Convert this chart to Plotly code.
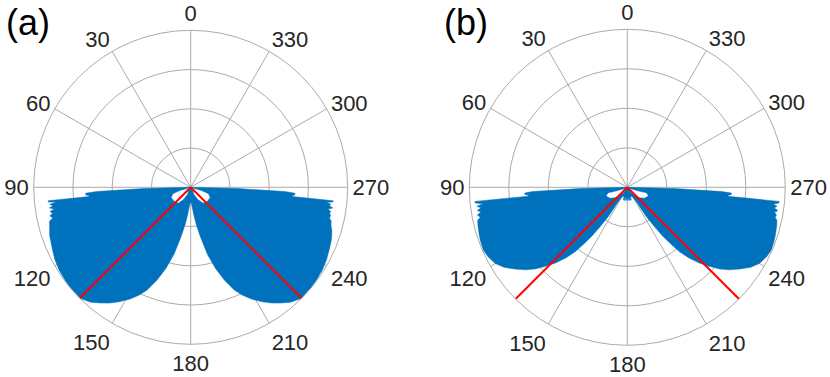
import plotly.graph_objects as go

# angular ticks / rings
ANGLE_TICKS = list(range(0, 360, 30))
RING_TICKS = [0.25, 0.5, 0.75, 1.0]

# panel (a): outline of left lobe (theta in deg, CCW from top), right lobe mirrored
A_THETA = [91.5, 92.6, 93.2, 94.2, 94.6, 95.2, 95.4, 95.9, 96.3, 96.9, 97.6, 98.3, 99.0,
           99.8, 100.6, 101.5, 102.5, 103.5, 105, 107, 109, 111, 114, 118, 122, 127,
           131, 135, 139, 142, 145, 148, 151.5, 154.5, 157, 160, 163, 166, 169, 171.5,
           173.5, 175.5, 177.5, 180]
A_R_LEFT = [0.3, 0.6, 0.67, 0.67, 0.65, 0.65, 0.912, 0.912, 0.86, 0.905, 0.885, 0.91, 0.88,
            0.91, 0.895, 0.915, 0.90, 0.925, 0.93, 0.94, 0.95, 0.955, 0.965, 0.98, 0.99, 0.996,
            1.0, 1.0, 0.97, 0.935, 0.90, 0.86, 0.81, 0.76, 0.71, 0.63, 0.54, 0.44, 0.32, 0.24,
            0.18, 0.13, 0.105, 0.095]
A_R_RIGHT = [0.3, 0.6, 0.665, 0.665, 0.65, 0.65, 0.912, 0.91, 0.87, 0.90, 0.89, 0.915, 0.885,
             0.905, 0.90, 0.91, 0.905, 0.92, 0.925, 0.94, 0.95, 0.958, 0.967, 0.98, 0.99, 0.996,
             1.0, 1.0, 0.97, 0.935, 0.90, 0.86, 0.81, 0.76, 0.71, 0.63, 0.54, 0.44, 0.32, 0.24,
             0.18, 0.13, 0.105, 0.095]
A_PETAL_THETA = [120, 109, 111, 118, 129, 141, 148, 153, 120]
A_PETAL_R = [0.015, 0.072, 0.119, 0.137, 0.136, 0.126, 0.09, 0.048, 0.015]

# panel (b)
B_THETA = [91.5, 92.6, 93.2, 94.0, 94.5, 95.1, 95.3, 95.9, 96.5, 97.2, 98.0, 98.8, 99.6,
           100.5, 101.5, 102.5, 104, 106, 108, 110.5, 113.5, 116.5, 120, 123, 126, 129,
           131.5, 134, 136.5, 139, 141, 142.5, 144, 145.5, 147, 147.8, 150, 154, 158, 161,
           163, 165, 167, 169, 171, 173, 175, 177, 180]
B_R_LEFT = [0.3, 0.6, 0.65, 0.65, 0.63, 0.63, 0.968, 0.968, 0.92, 0.96, 0.935, 0.96, 0.94,
            0.965, 0.95, 0.97, 0.975, 0.98, 0.985, 0.99, 0.994, 0.985, 0.965, 0.93, 0.88, 0.83,
            0.78, 0.72, 0.66, 0.59, 0.525, 0.45, 0.385, 0.30, 0.22, 0.12, 0.08, 0.065, 0.06, 0.065,
            0.085, 0.06, 0.085, 0.06, 0.085, 0.06, 0.085, 0.06, 0.08]
B_R_RIGHT = [0.3, 0.6, 0.66, 0.66, 0.64, 0.64, 0.965, 0.965, 0.93, 0.955, 0.94, 0.965, 0.945,
             0.96, 0.955, 0.97, 0.975, 0.98, 0.985, 0.99, 0.994, 0.985, 0.965, 0.93, 0.88, 0.83,
             0.78, 0.72, 0.66, 0.59, 0.525, 0.45, 0.385, 0.30, 0.22, 0.12, 0.08, 0.065, 0.06, 0.065,
             0.085, 0.06, 0.085, 0.06, 0.085, 0.06, 0.085, 0.06, 0.08]
B_PETAL_THETA = [125, 109.7, 107.5, 112.2, 121, 129, 136.5, 145, 125]
B_PETAL_R = [0.02, 0.083, 0.126, 0.141, 0.128, 0.1, 0.067, 0.034, 0.02]

# red reference lines
RED_THETA = [135, 225]
RED_R = 1.0

BLUE = '#0072BD'
GRID = '#ababab'
FONT = 'Arial, Liberation Sans, sans-serif'

W, H = 830, 377


def px_x(x):
    return x / W


def px_y(y):
    return 1 - y / H


def lobe_outline(theta, r_left, r_right):
    """Close the two lobes into one outline through the origin"""
    th = [0] + theta + [360 - t for t in reversed(theta)] + [0]
    rr = [0] + r_left + list(reversed(r_right)) + [0]
    return th, rr


def add_panel(fig, subplot, theta, r_left, r_right, petal_theta, petal_r):
    th, rr = lobe_outline(theta, r_left, r_right)
    fig.add_trace(go.Scatterpolar(
        theta=th, r=rr, mode='lines', fill='toself', fillcolor=BLUE,
        line=dict(color=BLUE, width=0.5), subplot=subplot, showlegend=False
    ))
    # white gaps near the origin
    for mirror in (False, True):
        pt = [360 - t for t in petal_theta] if mirror else petal_theta
        fig.add_trace(go.Scatterpolar(
            theta=pt, r=petal_r, mode='lines', fill='toself', fillcolor='white',
            line=dict(color='white', width=0.5), subplot=subplot, showlegend=False
        ))
    for t in RED_THETA:
        fig.add_trace(go.Scatterpolar(
            theta=[t, t], r=[0, RED_R], mode='lines',
            line=dict(color='#FF0000', width=2), subplot=subplot, showlegend=False
        ))


fig = go.Figure()
add_panel(fig, 'polar', A_THETA, A_R_LEFT, A_R_RIGHT, A_PETAL_THETA, A_PETAL_R)
add_panel(fig, 'polar2', B_THETA, B_R_LEFT, B_R_RIGHT, B_PETAL_THETA, B_PETAL_R)

polar_style = dict(
    bgcolor='white',
    radialaxis=dict(range=[0, 1], tickvals=RING_TICKS, showticklabels=False, ticks='',
                    showline=False, gridcolor=GRID, gridwidth=1),
    angularaxis=dict(rotation=90, direction='counterclockwise', tickvals=ANGLE_TICKS,
                     ticktext=[str(a) for a in ANGLE_TICKS], ticks='',
                     showline=True, linecolor=GRID, linewidth=1,
                     gridcolor=GRID, gridwidth=1,
                     tickfont=dict(family=FONT, size=22, color='#262626'))
)

# centres / radii in page pixels: (a) (190.7, 187.3) r=157, (b) (627.3, 187.3) r=158
fig.update_layout(
    width=W, height=H,
    margin=dict(l=0, r=0, t=0, b=0, autoexpand=False),
    paper_bgcolor='white',
    polar=dict(domain=dict(x=[px_x(190.7 - 157), px_x(190.7 + 157)],
                           y=[px_y(187.3 + 157), px_y(187.3 - 157)]), **polar_style),
    polar2=dict(domain=dict(x=[px_x(627.3 - 158), px_x(627.3 + 158)],
                            y=[px_y(187.3 + 158), px_y(187.3 - 158)]), **polar_style),
    annotations=[
        dict(text='(a)', x=px_x(4), y=px_y(23), xref='paper', yref='paper',
             xanchor='left', yanchor='middle', showarrow=False,
             font=dict(family=FONT, size=36, color='black')),
        dict(text='(b)', x=px_x(442), y=px_y(23), xref='paper', yref='paper',
             xanchor='left', yanchor='middle', showarrow=False,
             font=dict(family=FONT, size=36, color='black')),
    ]
)

# drop the browser's default body margin so the plot sits at the page corner
fig.write_html("out.html", config={'displayModeBar': False},
               post_script="document.body.style.margin = '0px';")
